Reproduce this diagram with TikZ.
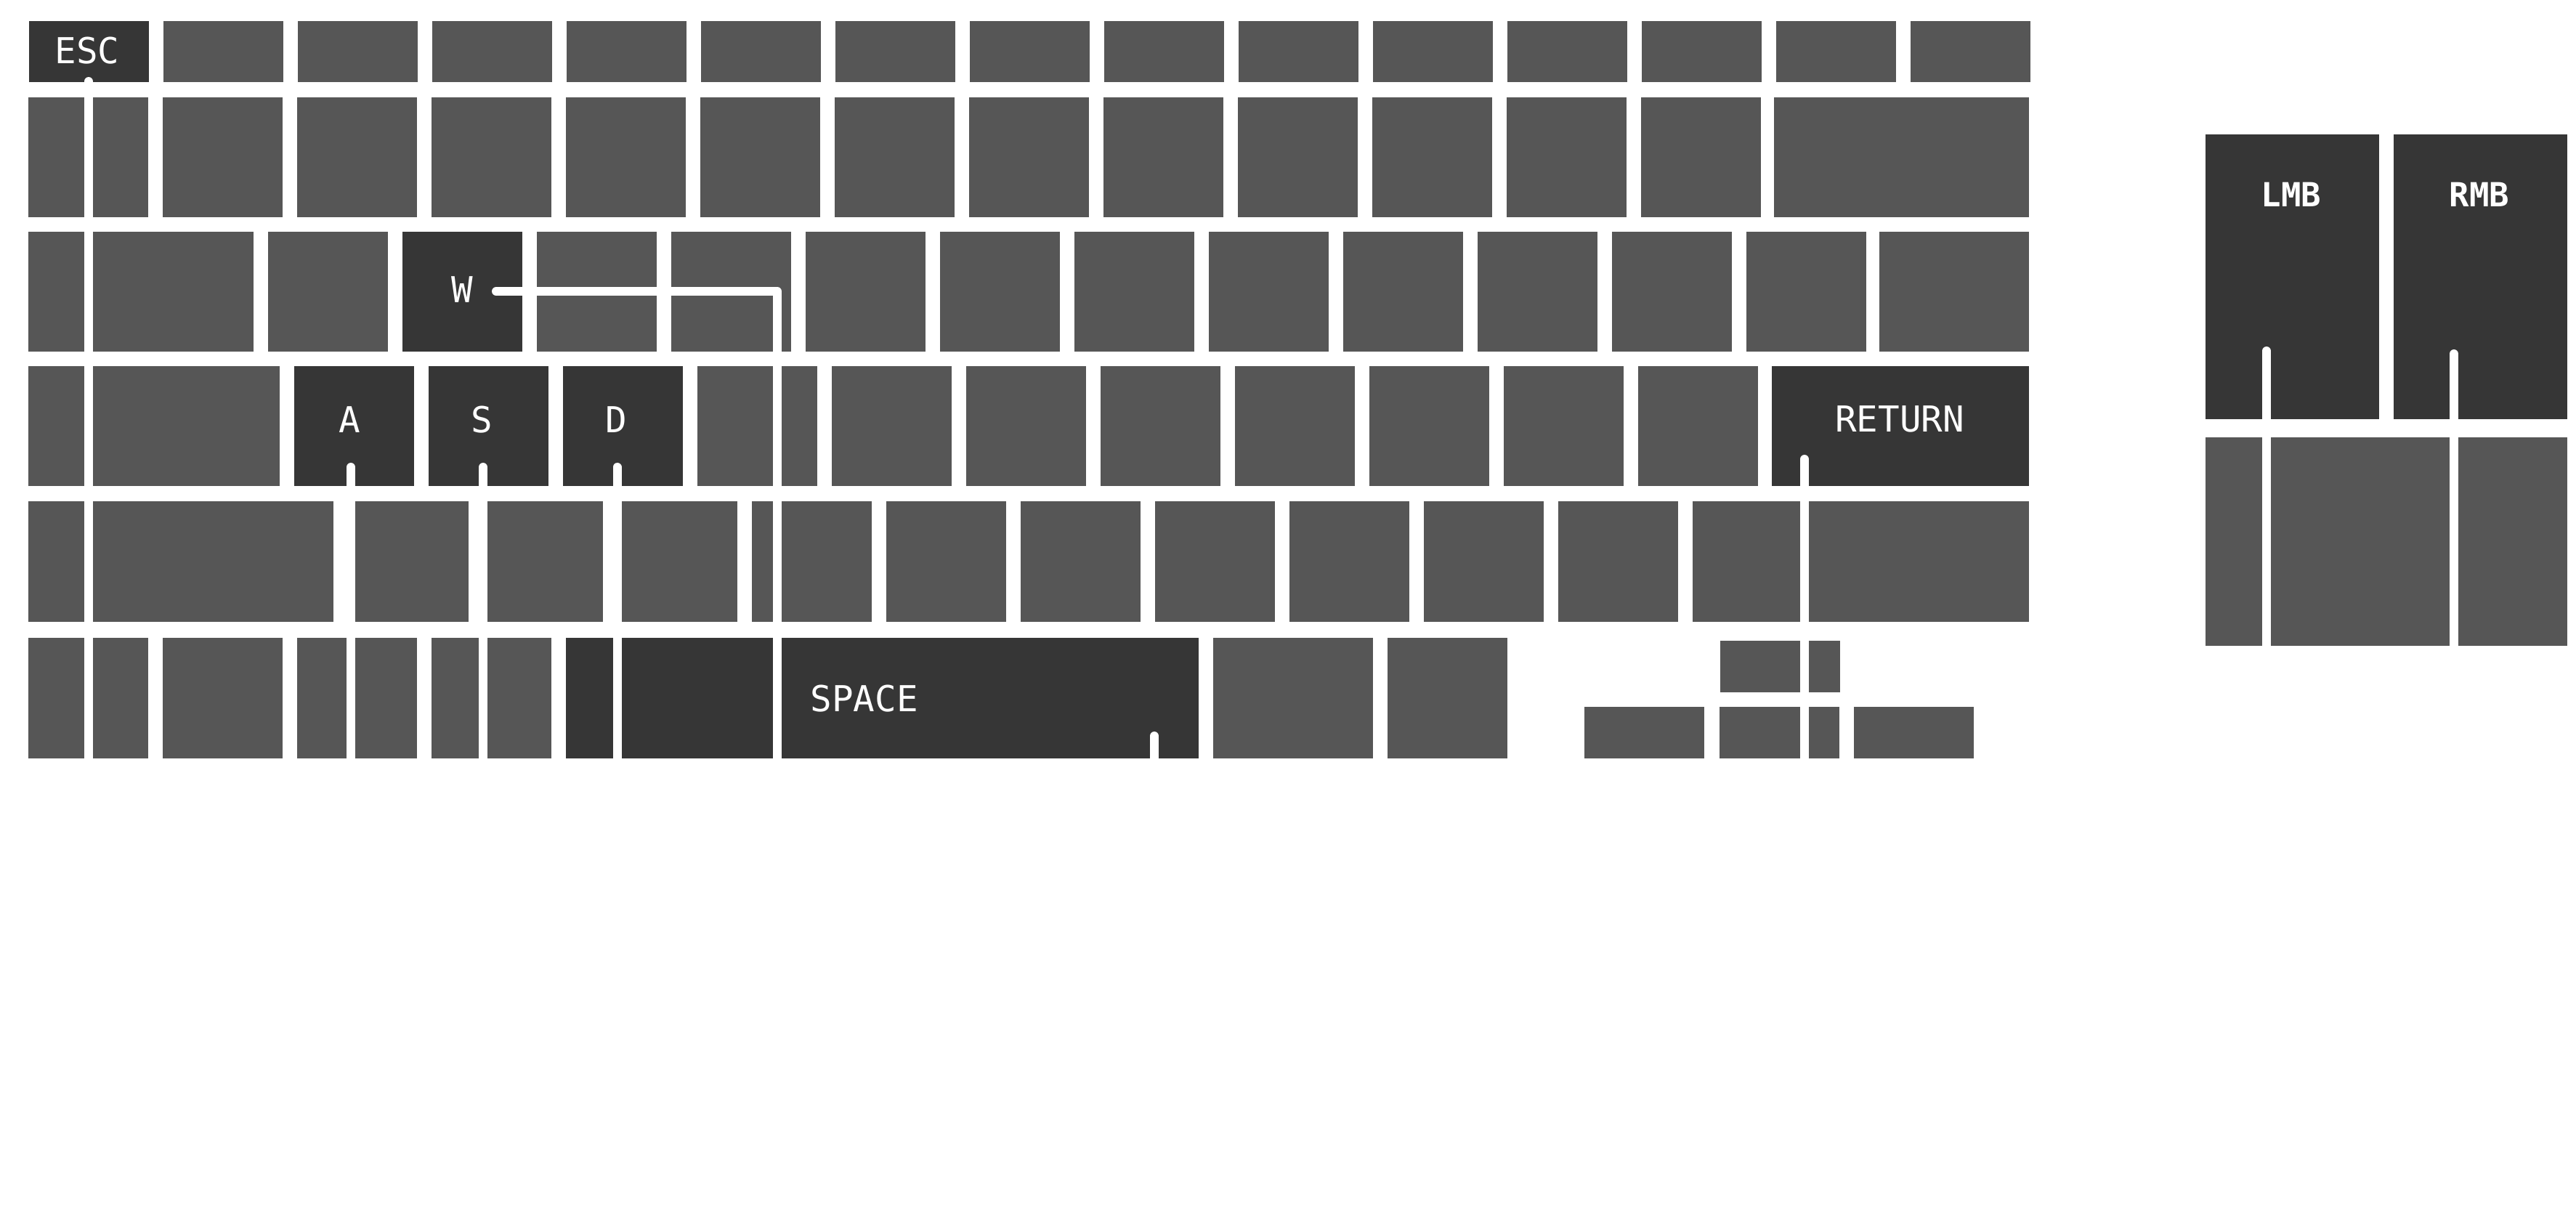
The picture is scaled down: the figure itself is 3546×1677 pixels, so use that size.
\documentclass[tikz,border=0pt]{standalone}
\usepackage{fontspec}
\newfontfamily\keyfont{DejaVu Sans Mono}
\definecolor{keygray}{HTML}{565656}
\definecolor{keydark}{HTML}{363636}
\begin{document}
\begin{tikzpicture}[x=0.1mm,y=-0.1mm,
  gk/.style={fill=keygray},
  dk/.style={fill=keydark},
  lead/.style={draw=white,line width=1.2mm,line cap=round,line join=round},
  lbl/.style={text=white,font=\keyfont\fontsize{14}{16}\selectfont,inner sep=0pt},
  lblm/.style={text=white,font=\keyfont\bfseries\fontsize{13}{15}\selectfont,inner sep=0pt}]
\useasboundingbox[fill=white] (0,0) rectangle (3546,1677);
% row 1
\fill[dk] (40,29) rectangle ++(165,84);
\foreach \i in {1,...,14} \fill[gk] ({40+185*\i},29) rectangle ++(165,84);
% row 2
\foreach \i in {0,...,12} \fill[gk] ({39+185*\i},134) rectangle ++(165,165);
\fill[gk] (2442,134) rectangle (2793,299);
% row 3
\fill[gk] (39,319) rectangle (349,484);
\foreach \i in {0,2,3,...,11} \fill[gk] ({369+185*\i},319) rectangle ++(165,165);
\fill[dk] (554,319) rectangle ++(165,165);
\fill[gk] (2587,319) rectangle (2793,484);
% row 4
\fill[gk] (39,504) rectangle (385,669);
\foreach \i in {0,1,2} \fill[dk] ({405+185*\i},504) rectangle ++(165,165);
\foreach \i in {3,...,10} \fill[gk] ({405+185*\i},504) rectangle ++(165,165);
\fill[dk] (2439,504) rectangle (2793,669);
% row 5
\fill[gk] (39,690) rectangle (459,856);
\foreach \i in {0,...,9} \fill[gk] ({480+185*\i},690) rectangle ++(165,166);
\fill[gk] (2330,690) rectangle (2793,856);
% row 6
\fill[gk] (39,878) rectangle (204,1044);
\fill[gk] (224,878) rectangle (389,1044);
\fill[gk] (409,878) rectangle (574,1044);
\fill[gk] (594,878) rectangle (759,1044);
\fill[dk] (779,878) rectangle (1650,1044);
\fill[gk] (1670,878) rectangle (1890,1044);
\fill[gk] (1910,878) rectangle (2075,1044);
\fill[gk] (2368,882) rectangle (2533,953);
\fill[gk] (2181,973) rectangle (2346,1044);
\fill[gk] (2367,973) rectangle (2532,1044);
\fill[gk] (2552,973) rectangle (2717,1044);
% mouse
\fill[dk] (3036,185) rectangle (3275,577);
\fill[dk] (3295,185) rectangle (3534,577);
\fill[gk] (3036,602) rectangle (3534,889);
% leader lines
\coordinate (escT) at (122,112);   \coordinate (escB) at (122,1100);
\coordinate (wS) at (683,401);     \coordinate (wC) at (1070,401); \coordinate (wB) at (1070,1100);
\coordinate (aT) at (483,643);     \coordinate (aB) at (483,1100);
\coordinate (sT) at (665,643);     \coordinate (sB) at (665,1100);
\coordinate (dT) at (849.5,643);   \coordinate (dB) at (849.5,1100);
\coordinate (spT) at (1589,1013);  \coordinate (spB) at (1589,1100);
\coordinate (rtT) at (2484,632);   \coordinate (rtB) at (2484,1100);
\coordinate (lmT) at (3120,483);   \coordinate (lmB) at (3120,950);
\coordinate (rmT) at (3378,487);   \coordinate (rmB) at (3378,950);
\draw[lead] (escT) -- (escB);
\draw[lead] (wS) -- (wC) -- (wB);
\draw[lead] (aT) -- (aB);
\draw[lead] (sT) -- (sB);
\draw[lead] (dT) -- (dB);
\draw[lead] (spT) -- (spB);
\draw[lead] (rtT) -- (rtB);
\draw[lead] (lmT) -- (lmB);
\draw[lead] (rmT) -- (rmB);
% labels
\node[lbl] (esc) at (120,70) {ESC};
\node[lbl] (w) at (636,399) {W};
\node[lbl] (a) at (481,578) {A};
\node[lbl] (s) at (663,578) {S};
\node[lbl] (d) at (848.5,578) {D};
\node[lbl,anchor=west] (space) at (1115,962) {SPACE};
\node[lbl] (ret) at (2615,577) {RETURN};
\node[lblm] (lmb) at (3154,268) {LMB};
\node[lblm] (rmb) at (3413,268) {RMB};
\end{tikzpicture}
\end{document}
